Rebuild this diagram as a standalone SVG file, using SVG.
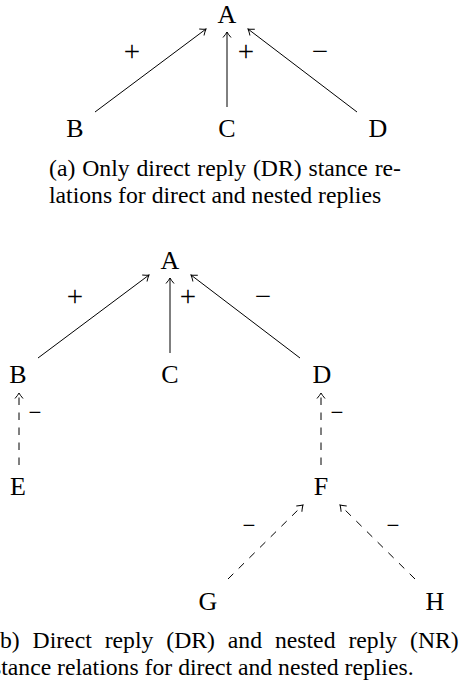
<svg xmlns="http://www.w3.org/2000/svg" width="463" height="681" viewBox="0 0 463 681">
<style>
.n{font-family:"Liberation Serif","Times New Roman",serif;font-size:26px;fill:#000;text-anchor:middle}
.l{font-family:"Liberation Serif","Times New Roman",serif;font-size:29px;fill:#000;text-anchor:middle}
.s{font-family:"Liberation Serif","Times New Roman",serif;font-size:23px;fill:#000;text-anchor:middle}
.cap{font-family:"Liberation Serif","Times New Roman",serif;font-size:23.7px;fill:#000}
.e{stroke:#000;stroke-width:1;fill:none;marker-end:url(#ah)}
.d{stroke-dasharray:7.5 7.5}
</style>
<defs>
<marker id="ah" markerUnits="userSpaceOnUse" markerWidth="12" markerHeight="12" refX="0" refY="0" viewBox="-7 -6 8 12" orient="auto">
<path d="M -5.5 -4 Q -2 -1 0 0 Q -2 1 -5.5 4" stroke="#000" stroke-width="1" fill="none"/>
</marker>
</defs>
<g id="connectors">
<line class="e" x1="95" y1="112" x2="206" y2="29"/>
<line class="e" x1="227" y1="107" x2="227" y2="32"/>
<line class="e" x1="357" y1="112" x2="248" y2="29"/>
<line class="e" x1="38" y1="358" x2="149" y2="275"/>
<line class="e" x1="170" y1="353" x2="170" y2="278"/>
<line class="e" x1="300" y1="358" x2="191" y2="275"/>
<line class="e d" x1="19" y1="465" x2="19" y2="393"/>
<line class="e d" x1="321" y1="465" x2="321" y2="393"/>
<line class="e d" x1="228" y1="579" x2="303" y2="505"/>
<line class="e d" x1="415" y1="579" x2="340" y2="505"/>
</g>
<g id="edge-labels">
<text class="l" x="132" y="61">+</text>
<text class="l" x="246" y="61">+</text>
<text class="l" x="320" y="61">−</text>
<text class="l" x="75" y="306">+</text>
<text class="l" x="188" y="306">+</text>
<text class="l" x="263" y="306">−</text>
<text class="s" x="35" y="420">−</text>
<text class="s" x="337" y="420">−</text>
<text class="s" x="249" y="533">−</text>
<text class="s" x="393" y="533">−</text>
</g>
<g id="a-A"><text class="n" x="227" y="23">A</text></g>
<g id="a-B"><text class="n" x="75" y="137">B</text></g>
<g id="a-C"><text class="n" x="227" y="137">C</text></g>
<g id="a-D"><text class="n" x="378" y="137">D</text></g>
<g id="b-A"><text class="n" x="170" y="269">A</text></g>
<g id="b-B"><text class="n" x="18" y="383">B</text></g>
<g id="b-C"><text class="n" x="170" y="383">C</text></g>
<g id="b-D"><text class="n" x="322" y="383">D</text></g>
<g id="b-E"><text class="n" x="18" y="495">E</text></g>
<g id="b-F"><text class="n" x="321" y="495">F</text></g>
<g id="b-G"><text class="n" x="208" y="610">G</text></g>
<g id="b-H"><text class="n" x="435" y="610">H</text></g>
<g id="captions">
<text class="cap" x="49" y="176" word-spacing="1">(a) Only direct reply (DR) stance re-</text>
<text class="cap" x="49" y="203">lations for direct and nested replies</text>
<text class="cap" x="-8" y="648" word-spacing="7">(b) Direct reply (DR) and nested reply (NR)</text>
<text class="cap" x="-8" y="675">stance relations for direct and nested replies.</text>
</g>
</svg>
